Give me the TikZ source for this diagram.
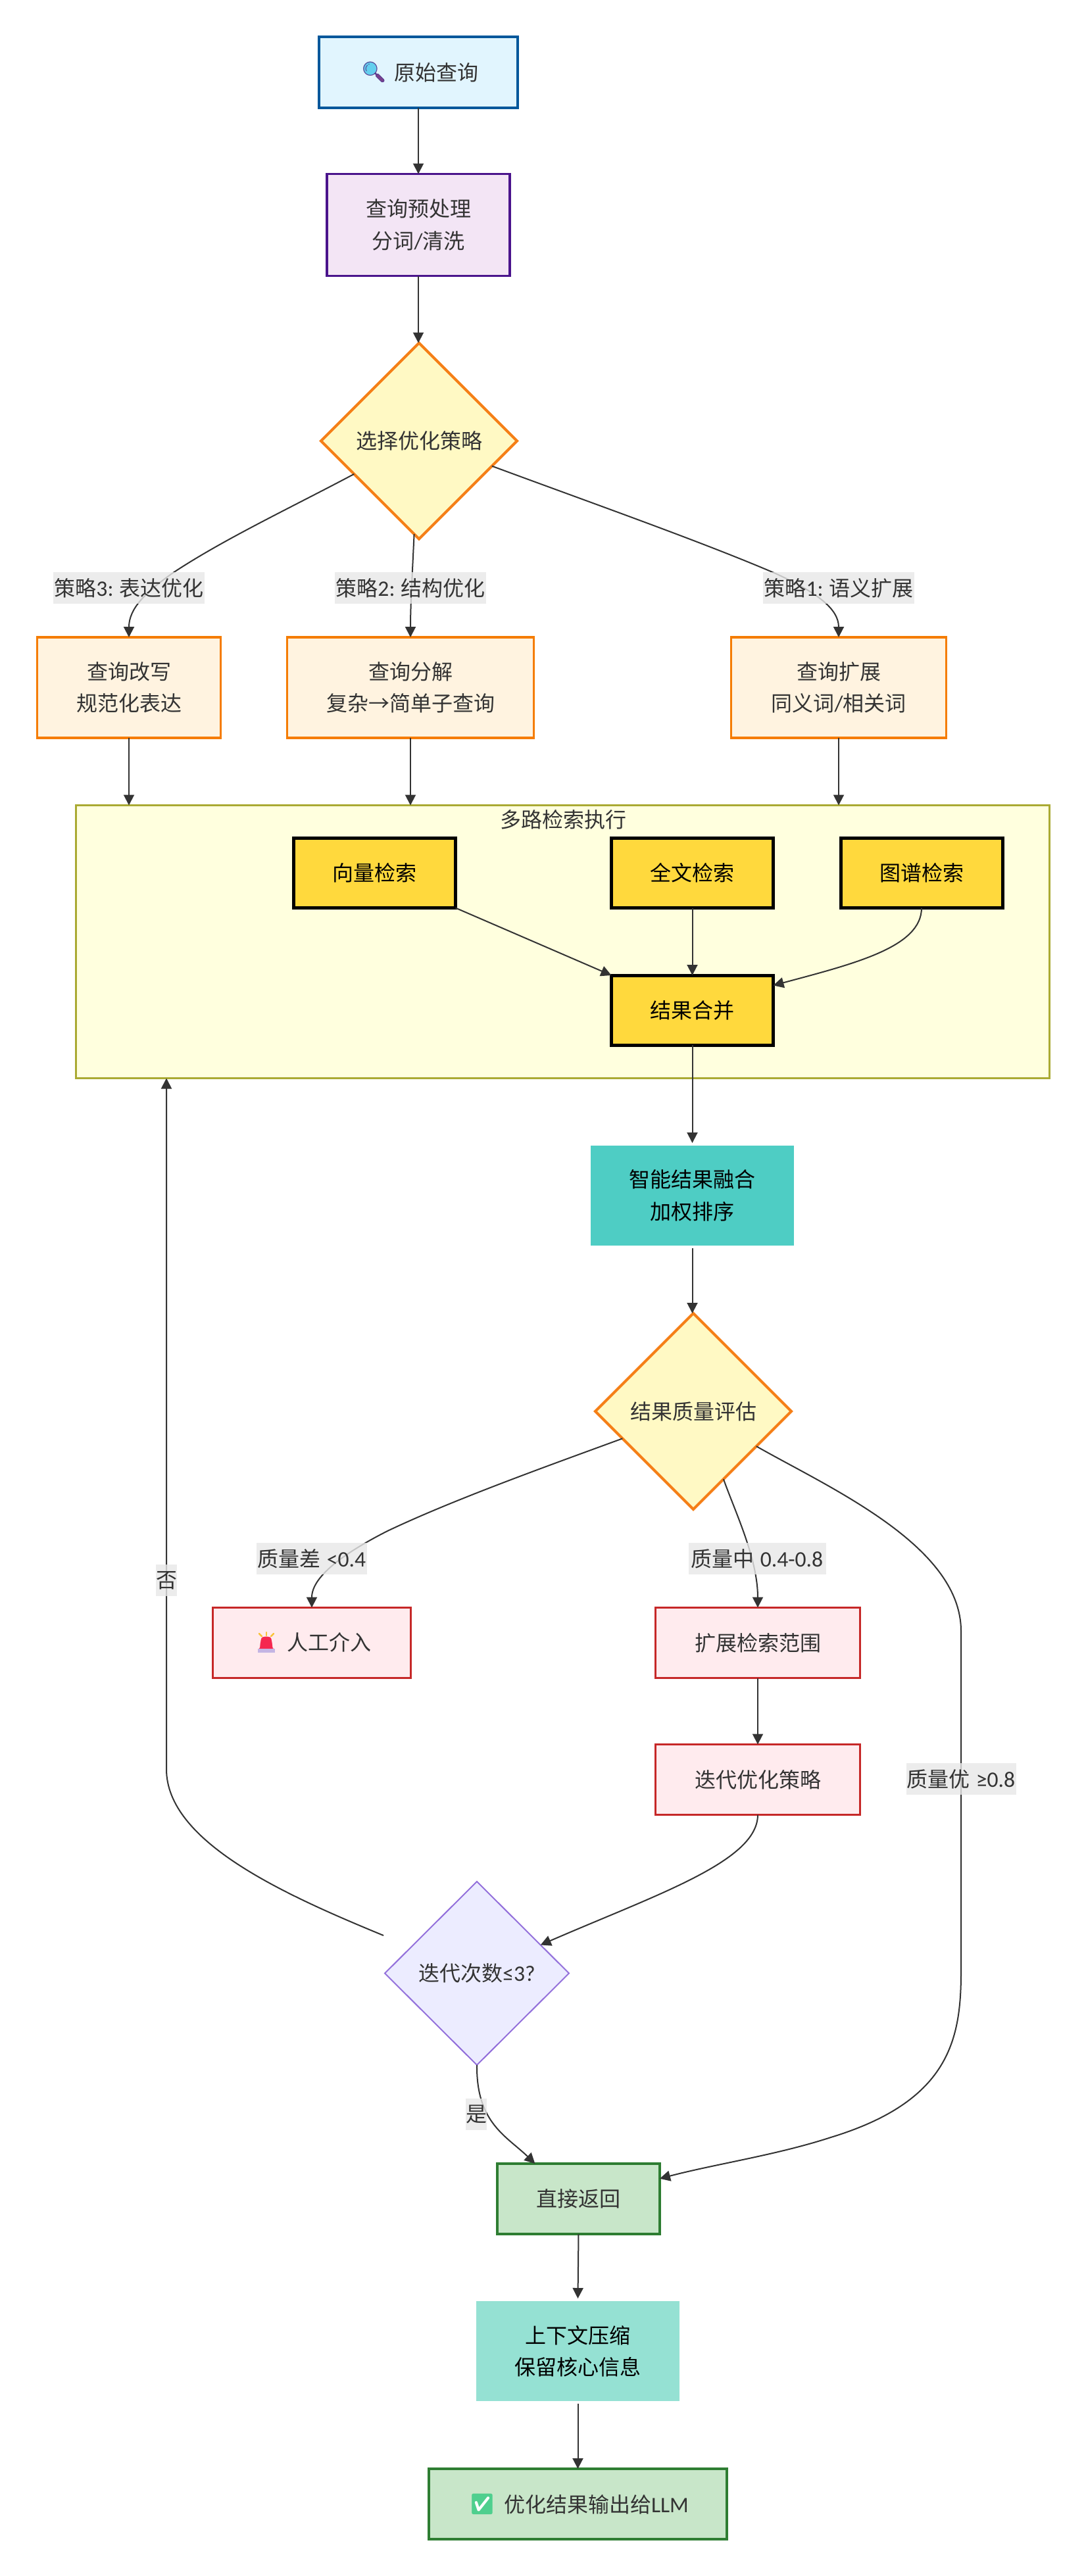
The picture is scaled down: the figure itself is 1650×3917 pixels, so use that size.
\documentclass[tikz,border=0pt]{standalone}
\usepackage{fontspec}
\setmainfont{Noto Sans CJK SC}
\newfontfamily\lat[Scale=1.05]{Carlito}
\newfontfamily\emo{Noto Emoji}
\usetikzlibrary{shapes.geometric,arrows.meta}
\definecolor{ink}{HTML}{333333}
\definecolor{cStartD}{HTML}{01579B}\definecolor{cStartF}{HTML}{E1F5FE}
\definecolor{cPreD}{HTML}{4A148C}\definecolor{cPreF}{HTML}{F3E5F5}
\definecolor{cOrD}{HTML}{F57C00}\definecolor{cOrF}{HTML}{FFF3E0}
\definecolor{cSearch}{HTML}{FFD93D}\definecolor{cRedD}{HTML}{C62828}
\definecolor{cRedF}{HTML}{FFEBEE}\definecolor{cGrD}{HTML}{2E7D32}
\definecolor{cGrF}{HTML}{C8E6C9}\definecolor{cYdD}{HTML}{F57F17}
\definecolor{cYdF}{HTML}{FFF9C4}\definecolor{cPuD}{HTML}{9370DB}
\definecolor{cPuF}{HTML}{ECECFF}\definecolor{cGrpD}{HTML}{AAAA33}
\definecolor{cGrpF}{HTML}{FFFFDE}\definecolor{cLab}{HTML}{E8E8E8}
\definecolor{fusecol}{HTML}{4ECDC4}\definecolor{compcol}{HTML}{95E1D3}
\definecolor{lens}{HTML}{63CFEE}\definecolor{lensd}{HTML}{5B3F92}\definecolor{handle}{HTML}{7B3F8C}
\definecolor{alarm}{HTML}{F5274F}\definecolor{alarmb}{HTML}{C4B5E3}\definecolor{alarmr}{HTML}{F9C33A}
\definecolor{checkg}{HTML}{4FCF8E}
\newcommand{\ltn}[1]{{\lat #1}}
% emoji: glyph, colour, slot width, left gap, size, raise
\newcommand{\emj}[6]{\makebox[#3][l]{\hspace{#4}\raisebox{#6}{\emo\fontsize{#5}{#5}\selectfont\textcolor{#2}{#1}}}}
\tikzset{
  base/.style={shape=rectangle,inner sep=0pt,outer sep=0pt,align=center,text=ink,
    font=\fontsize{32}{48.5}\selectfont},
  startbox/.style={base,draw=cStartD,fill=cStartF,line width=4.5pt},
  prebox/.style={base,draw=cPreD,fill=cPreF,line width=3.5pt},
  orangebox/.style={base,draw=cOrD,fill=cOrF,line width=3.5pt},
  searchbox/.style={base,draw=black,fill=cSearch,line width=5pt,text=black},
  fusebox/.style={base,fill=#1,outer sep=4pt,text=black},
  redbox/.style={base,draw=cRedD,fill=cRedF,line width=3.5pt},
  greenbox/.style={base,draw=cGrD,fill=cGrF,line width=4pt},
  ydiam/.style={base,shape=diamond,draw=cYdD,fill=cYdF,line width=4pt},
  pdiam/.style={base,shape=diamond,draw=cPuD,fill=cPuF,line width=2pt},
  group/.style={base,draw=cGrpD,fill=cGrpF,line width=2.5pt},
  edgelab/.style={shape=rectangle,inner sep=0pt,outer sep=0pt,fill=cLab,fill opacity=.8,text opacity=1,
    text=ink,font=\fontsize{32}{48}\selectfont},
  edge/.style={draw=ink,line width=2pt,-{Triangle[length=16pt,width=16pt]}},
  sz/.style 2 args={minimum width=#1,minimum height=#2},
}
\def\ppc{path picture bounding box.center}
\begin{document}
\begin{tikzpicture}[x=1pt,y=-1pt]
\useasboundingbox (0,0) rectangle (1650,3917);
\fill[white] (0,0) rectangle (1650,3917);
% group
\node[group,sz={1480pt}{415pt}] (sub) at (855.5,1432) {};
\node[base] (subt) at (856,1246) {多路检索执行};
% nodes
\node[startbox,sz={302pt}{108pt},path picture={
   \fill[lens] ([shift={(-73.3,-6)}]\ppc) circle (10.5pt);
   \draw[handle,line width=5pt,line cap=round] ([shift={(-62.4,4.5)}]\ppc) -- ([shift={(-54,12.5)}]\ppc);
 }] (Q) at (636,110) {\emj{🔍}{lensd}{54pt}{3.5pt}{31}{1.5pt}原始查询};
\node[prebox,sz={278pt}{155pt}] (P) at (636,342) {查询预处理\\分词\ltn{/}清洗};
\node[ydiam,sz={298pt}{298pt}] (S) at (637,670.5) {选择优化策略};
\node[orangebox,sz={279pt}{153pt}] (B3) at (196,1045.5) {查询改写\\规范化表达};
\node[orangebox,sz={375pt}{153pt}] (B2) at (624,1045.5) {查询分解\\复杂→简单子查询};
\node[orangebox,sz={327pt}{153pt}] (B1) at (1275,1045.5) {查询扩展\\同义词\ltn{/}相关词};
\node[searchbox,sz={246pt}{106pt}] (V) at (569.5,1327.5) {向量检索};
\node[searchbox,sz={246pt}{106pt}] (F) at (1052.5,1327.5) {全文检索};
\node[searchbox,sz={246pt}{106pt}] (G) at (1401,1327.5) {图谱检索};
\node[searchbox,sz={246pt}{106pt}] (M) at (1052.5,1536) {结果合并};
\node[fusebox=fusecol,sz={309pt}{152pt}] (Fu) at (1052.5,1818) {智能结果融合\\加权排序};
\node[ydiam,sz={298pt}{298pt}] (E) at (1054,2146) {结果质量评估};
\node[redbox,sz={301pt}{107pt},path picture={
   \fill[alarm] ([shift={(-78.5,9)}]\ppc) -- ([shift={(-76,-6)}]\ppc) .. controls ([shift={(-74,-10)}]\ppc) and ([shift={(-64,-10)}]\ppc) .. ([shift={(-62,-6)}]\ppc) -- ([shift={(-59.5,9)}]\ppc) -- cycle;
   \draw[alarmr,line width=2.5pt,line cap=round] ([shift={(-69,-16)}]\ppc) -- ([shift={(-69,-11)}]\ppc);
   \draw[alarmr,line width=2.5pt,line cap=round] ([shift={(-80,-14)}]\ppc) -- ([shift={(-76,-10)}]\ppc);
   \draw[alarmr,line width=2.5pt,line cap=round] ([shift={(-58,-14)}]\ppc) -- ([shift={(-62,-10)}]\ppc);
 }] (H) at (474,2498) {\emj{🚨}{alarm}{53pt}{6pt}{24}{0pt}人工介入};
\fill[alarmb] ([shift={(-82,8.5)}]H.center) rectangle ([shift={(-56,14.5)}]H.center);
\node[redbox,sz={311pt}{107pt}] (X) at (1152,2498) {扩展检索范围};
\node[redbox,sz={311pt}{107pt}] (I) at (1152,2706) {迭代优化策略};
\node[pdiam,sz={280pt}{279pt}] (D) at (725,3000.5) {迭代次数\ltn{≤3?}};
\node[greenbox,sz={453pt}{107pt}] at (878.5,3807.5) (Z) {};
\node[greenbox,draw=none,fill=none,sz={428pt}{107pt},path picture={
   \fill[white] ([shift={(-157,-14)}]\ppc) rectangle ([shift={(-131,10)}]\ppc);
 }] (Zt) at (878.5,3807.5) {\emj{✅}{checkg}{56pt}{3.3pt}{31}{2pt}优化结果输出给\ltn{LLM}};
\node[greenbox,sz={247pt}{107pt}] (R) at (879.5,3343.5) {直接返回};
\node[fusebox=compcol,sz={309pt}{152pt}] (C) at (878.5,3575) {上下文压缩\\保留核心信息};
\coordinate (Dq) at (583,2943);
% edges
\draw[edge] (Q.south) -- (P.north);
\draw[edge] (P.south) -- (P.south |- S.north);
\draw[edge] (S.207) .. controls (440,773) and (340,820) .. (263,871) .. controls (222,900) and (196,925) .. (B3.north);
\draw[edge] (S.267) .. controls (627,870) and (624,920) .. (B2.north);
\draw[edge] (S.341) .. controls (900,765) and (1070,825) .. (1179,872) .. controls (1240,900) and (1275,925) .. (B1.north);
\draw[edge] (B3.south) -- (B3.south |- sub.north);
\draw[edge] (B2.south) -- (B2.south |- sub.north);
\draw[edge] (B1.south) -- (B1.south |- sub.north);
\draw[edge] (V.south east) -- (M.north west);
\draw[edge] (F.south) -- (M.north);
\draw[edge] (G.south) .. controls (1401,1440) and (1300,1465) .. (M.17);
\draw[edge] (M.south) -- (Fu.north);
\draw[edge] (Fu.south) -- (Fu.south |- E.north);
\draw[edge] (E.201) .. controls (830,2230) and (690,2280) .. (589,2328) .. controls (530,2358) and (474,2395) .. (H.north);
\draw[edge] (E.294) .. controls (1118,2300) and (1152,2370) .. (X.north);
\draw[edge] (E.331) .. controls (1260,2262) and (1461,2350) .. (1461,2480) -- (1461,3000) .. controls (1461,3105) and (1440,3196) .. (1263,3250) .. controls (1180,3277) and (1090,3290) .. (R.14);
\draw[edge] (X.south) -- (I.north);
\draw[edge] (I.south) .. controls (1152,2830) and (1000,2880) .. (D.24);
\draw[edge] (Dq) .. controls (430,2880) and (253,2800) .. (253,2690) -- (253,2690 |- sub.south);
\draw[edge] (D.south) .. controls (724,3228) and (770,3248) .. (R.141);
\draw[edge] (R.south) -- (C.north);
\draw[edge] (C.south) -- (Z.north);
% edge labels
\node[edgelab,sz={230pt}{48pt}] (l3) at (196,894) {策略\ltn{3:\hspace{9pt}}表达优化};
\node[edgelab,sz={230pt}{48pt}] (l2) at (624,894) {策略\ltn{2:\hspace{9pt}}结构优化};
\node[edgelab,sz={230pt}{48pt}] (l1) at (1275,894) {策略\ltn{1:\hspace{9pt}}语义扩展};
\node[edgelab,sz={168pt}{48pt}] (lb) at (474,2370) {质量差\ltn{\hspace{9pt}<0.4}};
\node[edgelab,sz={209pt}{48pt}] (lm) at (1151,2370) {质量中\ltn{\hspace{9pt}0.4-0.8}};
\node[edgelab,sz={167pt}{48pt}] (lg) at (1461,2705) {质量优\ltn{\hspace{9pt}≥0.8}};
\node[edgelab,sz={32pt}{48pt}] (ln) at (253,2403) {否};
\node[edgelab,sz={32pt}{48pt}] (ly) at (724,3215) {是};
\end{tikzpicture}
\end{document}
